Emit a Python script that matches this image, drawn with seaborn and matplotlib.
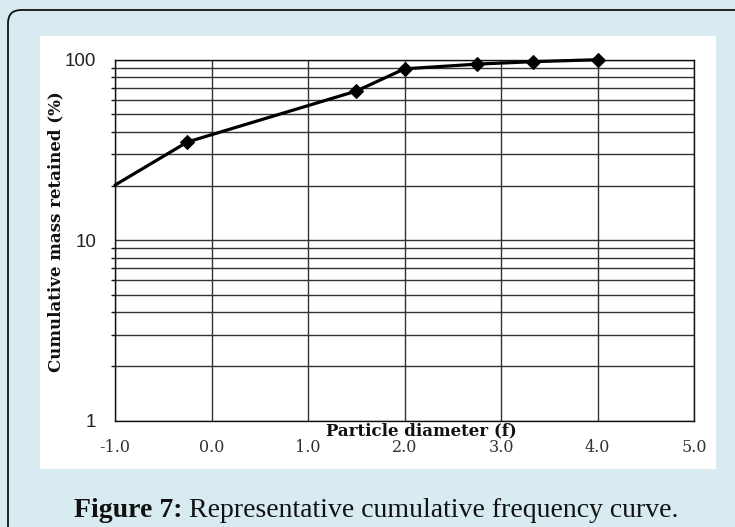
import matplotlib
matplotlib.use("Agg")
import matplotlib.pyplot as plt
import matplotlib.ticker as mticker
from matplotlib.patches import FancyBboxPatch, Rectangle
import numpy as np
import pandas as pd
import seaborn as sns

# ---- data ----
phi = [-1.0, -0.25, 1.5, 2.0, 2.75, 3.33, 4.0]
cum_retained = [20.2, 35.0, 67.0, 89.0, 94.5, 97.5, 100.0]
x_ticks = [-1.0, 0.0, 1.0, 2.0, 3.0, 4.0, 5.0]
x_tick_labels = ["-1.0", "0.0", "1.0", "2.0", "3.0", "4.0", "5.0"]
y_ticks = [1, 10, 100]
y_tick_labels = ["1", "10", "100"]
x_label = "Particle diameter (f)"
y_label = "Cumulative mass retained (%)"
caption_bold = "Figure 7:"
caption_rest = " Representative cumulative frequency curve."

df = pd.DataFrame({"phi": phi, "retained": cum_retained})

sns.set_style("white")
plt.rcParams["font.family"] = ["Liberation Sans", "DejaVu Sans"]
SERIF = ["DejaVu Serif", "Liberation Serif"]
CAP_SERIF = ["Liberation Serif", "DejaVu Serif"]

W, H = 735, 527
fig = plt.figure(figsize=(W / 100, H / 100), dpi=100)
bg = "#d7ebf1"
fig.patch.set_facecolor(bg)

def px(x0, y0):
    return x0 / W, 1 - y0 / H

# outer rounded border (extends off right/bottom)
border = FancyBboxPatch(px(8, 560), (780 - 8) / W, (560 - 10) / H,
                        boxstyle="round,pad=0,rounding_size=0.018",
                        transform=fig.transFigure, facecolor="none",
                        edgecolor="#111111", lw=1.3, zorder=0,
                        mutation_aspect=W / H)
fig.patches.append(border)

# white panel
panel = Rectangle(px(40, 469), (716 - 40) / W, (469 - 36) / H,
                  transform=fig.transFigure, facecolor="white",
                  edgecolor="none", zorder=0.1)
fig.patches.append(panel)

ax_l, ax_r, ax_t, ax_b = 115, 694, 59.7, 420.7
ax = fig.add_axes([ax_l / W, 1 - ax_b / H, (ax_r - ax_l) / W, (ax_b - ax_t) / H])
ax.set_zorder(2)
ax.set_facecolor("white")

sns.lineplot(data=df, x="phi", y="retained", ax=ax, color="black",
             lw=2.3, marker="D", markersize=7.5, markeredgecolor="black",
             markerfacecolor="black", zorder=5,
             markevery=list(range(1, len(phi))))
for ln in ax.get_lines():
    ln.set_clip_on(False)

ax.set_yscale("log")
ax.set_ylim(1, 100)
ax.set_xlim(-1, 5)

ax.yaxis.set_major_locator(mticker.FixedLocator(y_ticks))
ax.set_yticklabels(y_tick_labels)
ax.yaxis.set_minor_locator(mticker.LogLocator(base=10, subs=np.arange(2, 10)))
ax.yaxis.set_minor_formatter(mticker.NullFormatter())
ax.set_xticks(x_ticks)
ax.set_xticklabels(x_tick_labels)

ax.grid(True, which="major", axis="both", color="#333333", lw=1.0)
ax.grid(True, which="minor", axis="y", color="#333333", lw=1.0)
ax.set_axisbelow(True)

for s in ax.spines.values():
    s.set_color("#111111")
    s.set_linewidth(1.0)

ax.tick_params(axis="y", which="major", direction="out", length=4.5, width=1.0,
               color="#111111", pad=9, labelsize=13.5, labelcolor="#222222")
ax.tick_params(axis="y", which="minor", direction="out", length=3, width=1.0,
               color="#111111", left=True)
ax.tick_params(axis="x", which="major", direction="out", length=4, width=1.0,
               color="#111111", pad=9, labelsize=11.5, labelcolor="#333333")
for lab in ax.get_xticklabels():
    lab.set_family(SERIF)

ax.set_xlabel(x_label, family=SERIF, fontweight="bold", fontsize=12,
              color="#111111")
ax.xaxis.label.set_va("center")
ax.xaxis.set_label_coords((421 - ax_l) / (ax_r - ax_l), -(431 - ax_b) / (ax_b - ax_t))

ax.set_ylabel(y_label, family=SERIF, fontweight="bold", fontsize=12,
              color="#111111")
ax.yaxis.label.set_va("center")
ax.yaxis.set_label_coords((56 - ax_l) / (ax_r - ax_l), (ax_b - 232) / (ax_b - ax_t))

# caption
cap_fs = 20
t1 = fig.text(74 / W, 1 - 516.7 / H, caption_bold, fontsize=cap_fs,
              fontweight="bold", family=CAP_SERIF,
              color="#111111", va="baseline", ha="left")
fig.canvas.draw()
bb = t1.get_window_extent()
fig.text(bb.x1 / W, 1 - 516.7 / H, caption_rest, fontsize=cap_fs,
         family=CAP_SERIF, color="#111111", va="baseline", ha="left")

fig.savefig("out.png", dpi=100, facecolor=bg)
